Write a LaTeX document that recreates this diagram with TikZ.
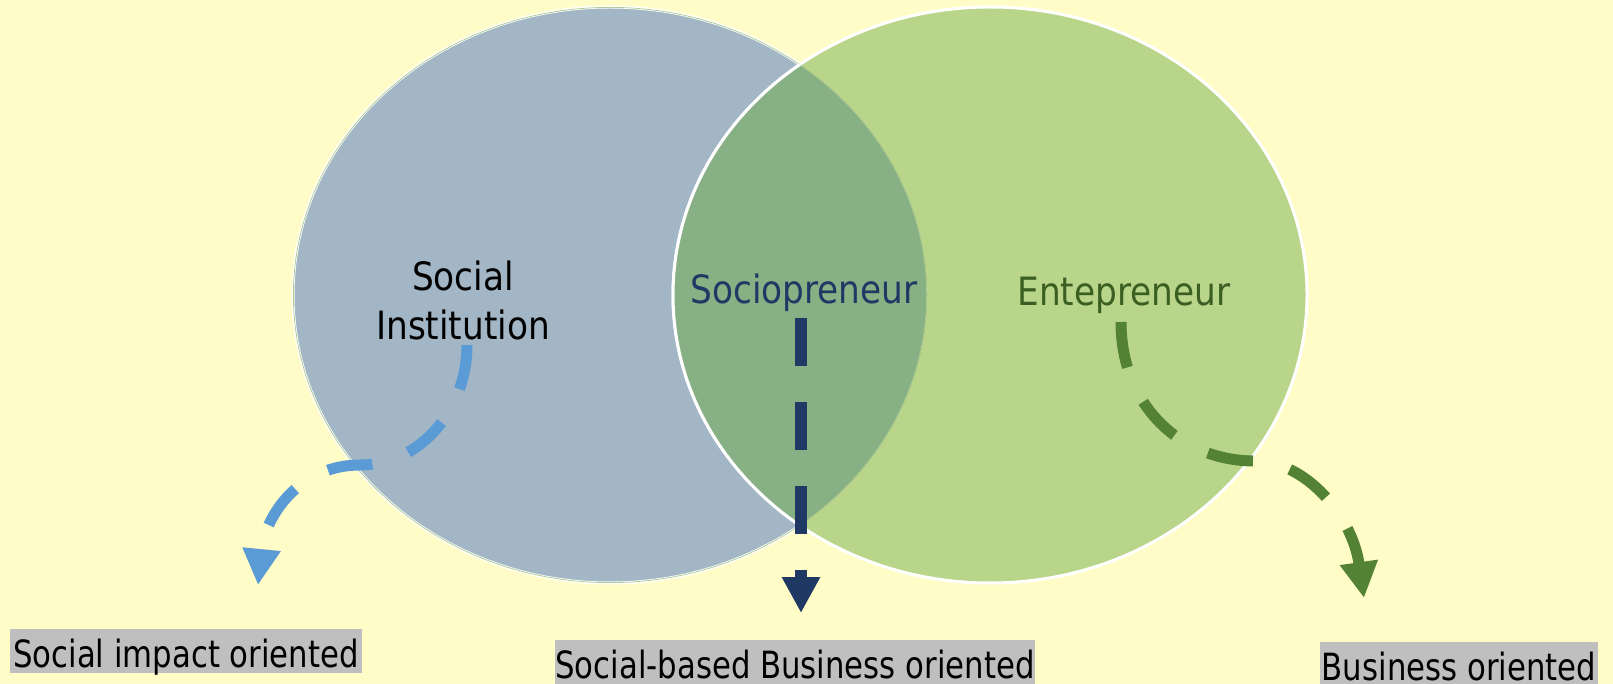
\documentclass[tikz,border=0pt]{standalone}
\usepackage{fontspec}
\setmainfont{DejaVu Sans}[FakeStretch=0.88]
\newfontfamily\labfont{DejaVu Sans}[FakeStretch=0.82]
\usetikzlibrary{arrows.meta,shapes.geometric}
\definecolor{bg}{HTML}{FFFCC8}
\definecolor{leftc}{HTML}{A2B6C6}
\definecolor{rightc}{HTML}{B8D58A}
\definecolor{overc}{HTML}{88B085}
\definecolor{faintc}{HTML}{AECB90}
\definecolor{blueA}{HTML}{5B9BD5}
\definecolor{navyA}{HTML}{1F3864}
\definecolor{greenA}{HTML}{548235}
\definecolor{greenT}{HTML}{3B5E22}
\definecolor{labgray}{HTML}{BFBFBF}
\tikzset{
  ell/.style={ellipse, draw=white, line width=3pt, minimum width=634pt, minimum height=576pt, inner sep=0pt},
  inlabel/.style={anchor=base, inner sep=0pt, font=\fontsize{39}{49}\selectfont},
  lab/.style={fill=labgray, inner xsep=0pt, inner ysep=0pt, text height=38pt, text depth=6pt, anchor=base, font=\labfont\fontsize{37.5}{44}\selectfont},
  flow/.style={line width=11pt, -{Triangle[length=36pt,width=36pt]}},
}
\begin{document}
\begin{tikzpicture}[x=1pt,y=-1pt]
\useasboundingbox (0,0) rectangle (1613,684);
\fill[bg] (0,0) rectangle (1613,684);
% ellipses
\node[ell, fill=leftc] (L) at (610,295) {};
\node[ell, fill=rightc] (R) at (990,295) {};
\begin{scope}
  \clip (610,295) ellipse [x radius=317pt, y radius=288pt];
  \fill[overc] (990,295) ellipse [x radius=317pt, y radius=288pt];
  \draw[faintc, line width=1.5pt] (610,295) ellipse [x radius=317pt, y radius=288pt];
  \draw[white, line width=3pt] (990,295) ellipse [x radius=317pt, y radius=288pt];
\end{scope}
% texts in ellipses
\node[inlabel, align=center] (si) at (463,339) {Social\\Institution};
\node[inlabel, text=navyA] (sp) at (804,304) {Sociopreneur};
\node[inlabel, text=greenT] (en) at (1124,306) {Entepreneur};
% bottom labels
\node[lab, minimum width=352pt] (l1) at (186,667) {Social impact oriented};
\node[lab, minimum width=474pt] (l2) at (795,678) {Social-based Business oriented};
\node[lab, minimum width=278pt] (l3) at (1459,680) {Business oriented};
% connector ends
\coordinate (b0) at (467,345);
\coordinate (b1) at (258,585);
\coordinate (n0) at (801,318);
\coordinate (n1) at (801,613);
\coordinate (g0) at (1121,322);
\coordinate (g1) at (1364,598);
% arrows
\draw[flow, draw=blueA, dash pattern=on 45pt off 38pt]
  (b0) .. controls (467,410) and (420,465) .. (360,465)
       .. controls (300,465) and (265,515) .. (b1);
\draw[flow, draw=navyA, line width=12pt, dash pattern=on 48pt off 36pt]
  (n0) -- (n1);
\draw[flow, draw=greenA, dash pattern=on 46pt off 38pt]
  (g0) .. controls (1121,405) and (1180,461) .. (1255,461)
       .. controls (1305,461) and (1352,515) .. (g1);
\end{tikzpicture}
\end{document}
